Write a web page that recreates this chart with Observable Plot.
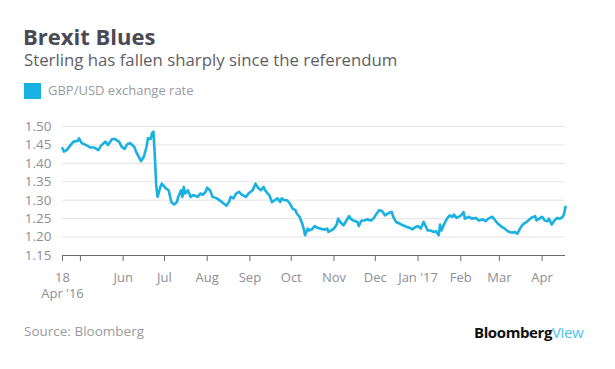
<!DOCTYPE html>
<html>
<head>
<meta charset="utf-8">
<script src="https://cdn.jsdelivr.net/npm/d3@7"></script>
<script src="https://cdn.jsdelivr.net/npm/@observablehq/plot@0.6"></script>
<style>
  html, body { margin: 0; padding: 0; background: #fff; }
  #wrap { position: relative; width: 615px; height: 369px; background: #fff; font-family: "Open Sans", Lato, sans-serif; overflow: hidden; }
  .abs { position: absolute; line-height: 1; white-space: nowrap; }
  #title { left: 23px; top: 25px; font-size: 22px; font-weight: 700; color: #4a4a55; }
  #subtitle { left: 24px; top: 52px; font-size: 16.8px; color: #5e5e66; }
  #swatch { left: 24px; top: 83px; width: 17px; height: 16px; background: #19b1e2; }
  #legend { left: 48px; top: 84px; font-size: 13px; color: #9a9aa0; }
  #source { left: 24px; top: 325px; font-size: 13.5px; color: #9a9aa0; }
  #brand { left: 474px; top: 325px; font-size: 15px; font-weight: 700; color: #111; letter-spacing: -0.4px; }
  #brand span { color: #4cc3ea; font-weight: 400; }
  #chart { position: absolute; left: 0; top: 110px; }
</style>
</head>
<body>
<div id="wrap">
  <div class="abs" id="title">Brexit Blues</div>
  <div class="abs" id="subtitle">Sterling has fallen sharply since the referendum</div>
  <div class="abs" id="swatch"></div>
  <div class="abs" id="legend">GBP/USD exchange rate</div>
  <div id="chart"></div>
  <div class="abs" id="source">Source: Bloomberg</div>
  <div class="abs" id="brand">Bloomberg<span>View</span></div>
</div>
<script>
const dates = [
  "2016-04-18","2016-04-19","2016-04-21","2016-04-24","2016-04-26","2016-04-29","2016-04-30",
  "2016-05-02","2016-05-06","2016-05-08","2016-05-11","2016-05-14","2016-05-16","2016-05-19",
  "2016-05-21","2016-05-24","2016-05-26","2016-05-29","2016-05-31",
  "2016-06-02","2016-06-04","2016-06-06","2016-06-09","2016-06-11","2016-06-14","2016-06-16",
  "2016-06-18","2016-06-19","2016-06-21","2016-06-22","2016-06-23","2016-06-24","2016-06-25",
  "2016-06-26","2016-06-28","2016-06-29",
  "2016-07-02","2016-07-04","2016-07-06","2016-07-08","2016-07-10","2016-07-11","2016-07-13",
  "2016-07-14","2016-07-15","2016-07-16","2016-07-18","2016-07-20","2016-07-22","2016-07-25",
  "2016-07-27","2016-07-29","2016-07-31",
  "2016-08-01","2016-08-03","2016-08-05","2016-08-08","2016-08-11","2016-08-13","2016-08-15",
  "2016-08-17","2016-08-18","2016-08-20","2016-08-22","2016-08-24","2016-08-26","2016-08-29",
  "2016-08-31",
  "2016-09-03","2016-09-05","2016-09-07","2016-09-09","2016-09-11","2016-09-12","2016-09-14",
  "2016-09-15","2016-09-17","2016-09-19","2016-09-21","2016-09-23","2016-09-24","2016-09-26",
  "2016-09-28","2016-09-30",
  "2016-10-02","2016-10-04","2016-10-05","2016-10-07","2016-10-09","2016-10-10","2016-10-11",
  "2016-10-13","2016-10-14","2016-10-16","2016-10-18","2016-10-20","2016-10-22","2016-10-25",
  "2016-10-27","2016-10-28","2016-10-30",
  "2016-11-01","2016-11-03","2016-11-04","2016-11-06","2016-11-08","2016-11-10","2016-11-12",
  "2016-11-13","2016-11-15","2016-11-18","2016-11-19","2016-11-21","2016-11-23","2016-11-25",
  "2016-11-28","2016-11-30",
  "2016-12-02","2016-12-04","2016-12-06","2016-12-08","2016-12-11","2016-12-13","2016-12-14",
  "2016-12-16","2016-12-19","2016-12-21","2016-12-24","2016-12-26","2016-12-28","2016-12-30",
  "2017-01-01","2017-01-03","2017-01-05","2017-01-06","2017-01-08","2017-01-10","2017-01-12",
  "2017-01-14","2017-01-16","2017-01-17","2017-01-18","2017-01-20","2017-01-22","2017-01-24",
  "2017-01-26","2017-01-27","2017-01-29",
  "2017-02-01","2017-02-03","2017-02-04","2017-02-07","2017-02-09","2017-02-12","2017-02-14",
  "2017-02-17","2017-02-19","2017-02-21","2017-02-24","2017-02-26","2017-02-28",
  "2017-03-03","2017-03-05","2017-03-07","2017-03-10","2017-03-12","2017-03-14","2017-03-16",
  "2017-03-18","2017-03-20","2017-03-22","2017-03-24","2017-03-27","2017-03-28","2017-03-30",
  "2017-04-01","2017-04-03","2017-04-05","2017-04-06","2017-04-08","2017-04-10","2017-04-12",
  "2017-04-14","2017-04-16","2017-04-17","2017-04-18"
];
const rates = [
  1.441,1.432,1.436,1.450,1.459,1.461,1.468,
  1.455,1.448,1.443,1.443,1.436,1.448,1.459,
  1.450,1.466,1.466,1.459,1.445,
  1.439,1.452,1.455,1.445,1.427,1.406,1.418,
  1.445,1.468,1.466,1.482,1.486,1.420,1.340,
  1.309,1.336,1.345,
  1.332,1.327,1.295,1.288,1.295,1.309,1.327,
  1.309,1.336,1.318,1.327,1.309,1.314,1.309,
  1.318,1.315,1.324,
  1.334,1.327,1.309,1.305,1.297,1.291,1.285,
  1.297,1.309,1.305,1.318,1.323,1.315,1.309,
  1.318,
  1.327,1.345,1.333,1.327,1.336,1.327,1.318,
  1.314,1.295,1.300,1.305,1.295,1.305,1.300,
  1.300,1.291,
  1.277,1.273,1.264,1.255,1.236,1.223,1.205,
  1.223,1.218,1.221,1.230,1.225,1.223,1.220,
  1.223,1.214,1.218,
  1.223,1.234,1.250,1.239,1.232,1.245,1.257,
  1.250,1.245,1.241,1.230,1.245,1.245,1.248,
  1.245,1.252,
  1.264,1.273,1.270,1.259,1.266,1.268,1.255,
  1.241,1.236,1.232,1.227,1.225,1.221,1.227,
  1.230,1.223,1.241,1.234,1.218,1.218,1.214,
  1.216,1.205,1.234,1.218,1.236,1.250,1.259,
  1.255,1.261,1.252,
  1.258,1.268,1.250,1.255,1.250,1.252,1.245,
  1.248,1.243,1.250,1.255,1.245,1.236,
  1.227,1.223,1.216,1.212,1.214,1.209,1.223,
  1.234,1.239,1.245,1.252,1.257,1.245,1.250,
  1.255,1.245,1.243,1.250,1.234,1.245,1.252,
  1.250,1.255,1.264,1.282
];
const yTicks = [1.15, 1.20, 1.25, 1.30, 1.35, 1.40, 1.45, 1.50];
const tickDates = ["2016-04-18","2016-05-01","2016-06-01","2016-07-01","2016-08-01","2016-09-01",
  "2016-10-01","2016-11-01","2016-12-01","2017-01-01","2017-02-01","2017-03-01","2017-04-01"];
const tickLabels = ["18\nApr '16","","Jun","Jul","Aug","Sep","Oct","Nov","Dec","Jan '17","Feb","Mar","Apr"];
const xDomain = ["2016-04-18","2017-04-18"];

const data = dates.map((d, i) => ({date: new Date(d), value: rates[i]}));
const tickDateObjs = tickDates.map(d => new Date(d));
const labelMap = new Map(tickDateObjs.map((d, i) => [+d, tickLabels[i]]));

const chart = Plot.plot({
  width: 615,
  height: 195,
  marginTop: 16,
  marginBottom: 50,
  marginLeft: 62,
  marginRight: 50,
  style: {fontFamily: "'Open Sans', Lato, sans-serif", fontSize: "13px", color: "#8e8e95", background: "transparent", overflow: "visible"},
  x: {type: "utc", domain: xDomain.map(d => new Date(d)), label: null},
  y: {domain: [1.15, 1.50], label: null},
  marks: [
    Plot.gridY(yTicks.slice(1), {stroke: "#e4e4e4", strokeOpacity: 1}),
    Plot.axisY(yTicks, {tickSize: 0, tickPadding: 11, tickFormat: d => d.toFixed(2), fontSize: 13.5, label: null}),
    Plot.axisX(tickDateObjs, {tickSize: 6, tickPadding: 9, tickFormat: d => labelMap.get(+d), stroke: "#6b6b6b", fontSize: 13, lineHeight: 1.25, label: null}),
    Plot.ruleY([1.15], {stroke: "#6b6b6b"}),
    Plot.lineY(data, {x: "date", y: "value", stroke: "#19b1e2", strokeWidth: 2.6, strokeLinejoin: "round"})
  ]
});
document.getElementById("chart").appendChild(chart);
</script>
</body>
</html>
